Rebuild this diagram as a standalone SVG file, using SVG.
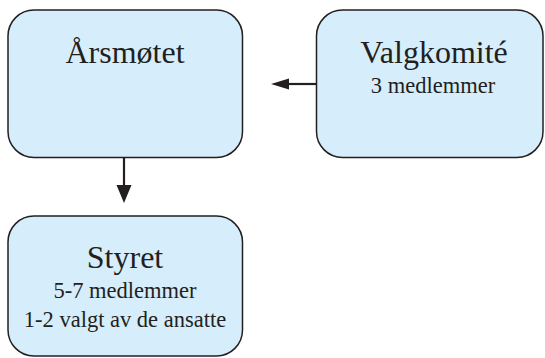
<svg xmlns="http://www.w3.org/2000/svg" width="545" height="358" viewBox="0 0 545 358">
<defs>
<style>
.box{fill:#d6edfb;stroke:#231f20;stroke-width:1.5}
text{font-family:"Liberation Serif","DejaVu Serif",serif;fill:#231f20;text-anchor:middle}
.big{font-size:32px}
.small{font-size:22.5px}
.conn{stroke:#231f20;stroke-width:2.2;fill:none}
.head{fill:#231f20}
</style>
</defs>
<rect width="545" height="358" fill="#ffffff"/>
<g id="connectors">
<line class="conn" x1="124" y1="157.5" x2="124" y2="188"/>
<polygon class="head" points="116.5,185 131.5,185 124,203"/>
<line class="conn" x1="316.5" y1="84" x2="286" y2="84"/>
<polygon class="head" points="289,78.5 289,89.5 271,84"/>
</g>
<g id="arsmotet">
<rect class="box" x="8" y="10" width="234.5" height="147.5" rx="26" ry="26"/>
<text class="big" x="125" y="63" font-family="Liberation Serif, serif">Årsmøtet</text>
</g>
<g id="valgkomite">
<rect class="box" x="316.5" y="10" width="226.5" height="147.5" rx="26" ry="26"/>
<text class="big" x="434" y="63" font-family="Liberation Serif, serif">Valgkomité</text>
<text class="small" x="433" y="93" font-family="Liberation Serif, serif">3 medlemmer</text>
</g>
<g id="styret">
<rect class="box" x="8" y="216" width="234.5" height="140" rx="26" ry="26"/>
<text class="big" x="125" y="268" font-family="Liberation Serif, serif">Styret</text>
<text class="small" x="125" y="298" font-family="Liberation Serif, serif">5-7 medlemmer</text>
<text class="small" x="125" y="327" font-family="Liberation Serif, serif">1-2 valgt av de ansatte</text>
</g>
</svg>
